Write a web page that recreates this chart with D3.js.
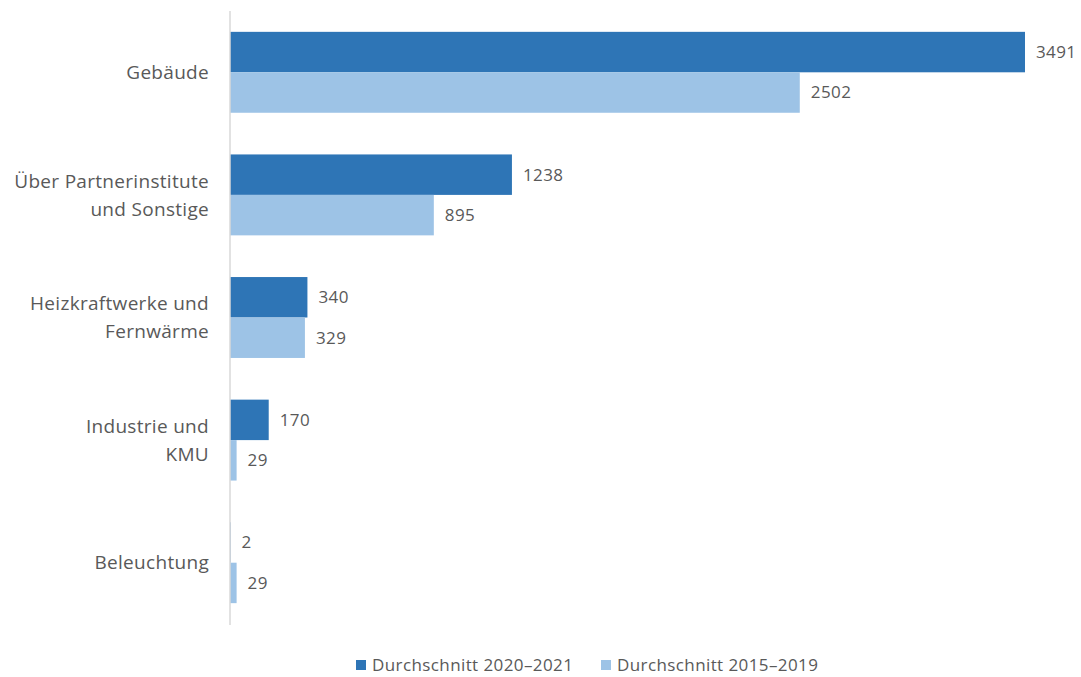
<!DOCTYPE html>
<html><head><meta charset="utf-8">
<script src="https://cdn.jsdelivr.net/npm/d3@7"></script>
<style>body{margin:0;background:#fff}svg{display:block}text{font-family:"Open Sans",sans-serif;fill:#595959}</style>
</head><body><svg id="c" width="1081" height="677"></svg>
<script>
const categories = [["Gebäude"],["Über Partnerinstitute","und Sonstige"],["Heizkraftwerke und","Fernwärme"],["Industrie und","KMU"],["Beleuchtung"]];
const seriesNames = ["Durchschnitt 2020–2021","Durchschnitt 2015–2019"];
const values2020 = [3491,1238,340,170,2];
const values2015 = [2502,895,329,29,29];
const colors = ["#2E75B6","#9DC3E6"];

const svg = d3.select("#c");
const pLeft = 230, pRight = 1025, pTop = 11, pBottom = 624;
const x = d3.scaleLinear().domain([0,3491]).range([pLeft,pRight]);
const keys = categories.map((c,i)=>i);
const y = d3.scaleBand().domain(keys).range([pTop,pBottom]).paddingInner(0.34).paddingOuter(0.17);
const y1 = d3.scaleBand().domain([0,1]).range([0,y.bandwidth()]);
const series = [values2020, values2015];

series.forEach((vals,s)=>{
  const g = svg.append("g");
  g.selectAll("rect").data(vals).join("rect")
    .attr("x", x(0)).attr("y",(d,i)=>y(i)+y1(s))
    .attr("width", d=>x(d)-x(0)).attr("height", y1.bandwidth())
    .attr("fill", colors[s]);
  g.selectAll("text").data(vals).join("text")
    .attr("x", d=>x(d)+11).attr("y",(d,i)=>y(i)+y1(s)+y1.bandwidth()/2)
    .attr("dy","0.35em").attr("font-size",17).attr("letter-spacing",0.4).text(d=>d);
});

svg.append("line").attr("x1",pLeft).attr("x2",pLeft).attr("y1",pTop).attr("y2",pBottom+1)
  .attr("stroke","#d9d9d9").attr("stroke-width",1.5);

const lab = svg.append("g");
categories.forEach((lines,i)=>{
  const cy = y(i)+y.bandwidth()/2;
  const lh = 28;
  const t = lab.append("text").attr("text-anchor","end").attr("font-size",19).attr("letter-spacing",0.3);
  lines.forEach((l,j)=>{
    t.append("tspan").attr("x",209).attr("y", cy + (j-(lines.length-1)/2)*lh).attr("dy","0.35em").text(l);
  });
});

const legX = [356, 601];
seriesNames.forEach((n,s)=>{
  svg.append("rect").attr("x",legX[s]).attr("y",660).attr("width",10).attr("height",10).attr("fill",colors[s]);
  svg.append("text").attr("x",legX[s]+16).attr("y",665).attr("dy","0.35em").attr("font-size",17).attr("letter-spacing",0.4).text(n);
});
</script></body></html>
